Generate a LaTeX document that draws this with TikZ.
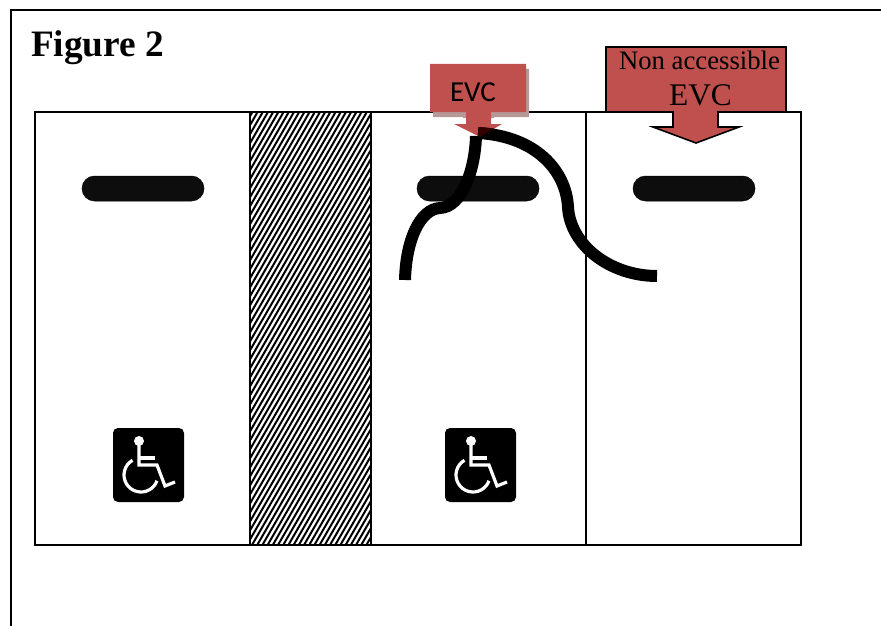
\documentclass[tikz,border=0pt]{standalone}
\usepackage{fontspec}
\setmainfont{Liberation Serif}
\newfontfamily\evcfont{Carlito}
\usepackage{tikz}
\def\wheelchair(#1){
	\begin{scope}[shift={(#1)}]
		\fill[black, rounded corners=5] (0, 0) rectangle (71, 74);
		\fill[white] (26, 13) circle (5);
		\draw[chairline] (26, 13) -- (26, 37) -- (44, 37) -- (52, 58) -- (62, 54);
		\draw[chairline] (26, 30) -- (42, 30);
		\draw[chairline] (28, 47) ++(240:17) arc (240:20:17);
	\end{scope}
}
\def\cableleft{(405, 280) .. controls (406, 240) and (420, 209) .. (440, 208) .. controls (462, 207) and (475, 170) .. (476, 136)}
\def\cableright{(657, 276) .. controls (610, 276) and (570, 245) .. (568, 207) .. controls (566, 170) and (535, 136) .. (478, 133)}
\tikzset{
	chairline/.style={white, line width=3.2},
	cable/.style={black, line width=12},
	evcred/.style={fill={rgb,255:red,192;green,80;blue,77}},
	evcshadow/.style={fill={rgb,255:red,182;green,152;blue,152}},
	stripe/.style={black, line width=2},
	parkpill/.style={fill=black!95, draw=black, line width=0.5, rounded corners=12.5}
}

\begin{document}
\begin{tikzpicture}[x=1pt, y=-1pt]
			%%%%% START %%%%%
			\useasboundingbox (0, 0) rectangle (881, 626);
			\draw[line width=2] (10.5, 626) -- (10.5, 10.5) -- (881, 10.5);
			
			\node[anchor=west, font=\fontsize{37.3}{37.3}\selectfont\bfseries] (figtitle) at (27.5, 48) {Figure 2};
			
			\begin{scope}
				\clip (250, 112) rectangle (371, 545);
				\foreach \i in {0,...,78} {
					\draw[stripe] (-8+\i*5.2, 545) -- ++(250, -433);
				}
			\end{scope}
			
			\draw[line width=1.4] (35, 112) rectangle (801, 545);
			\draw[line width=1.4] (250, 112) -- (250, 545);
			\draw[line width=1.4] (371, 112) -- (371, 545);
			\draw[line width=1.4] (586, 112) -- (586, 545);
			
			\draw[parkpill] (82, 176) rectangle (204, 201);
			\draw[parkpill] (417, 176) rectangle (539, 201);
			\draw[parkpill] (633, 176) rectangle (755, 201);
			
			\wheelchair(113, 428)
			\wheelchair(445, 428)
			
			%% shadow of the left box
			\fill[evcshadow] (433, 69) -- (529, 69) -- (529, 117) -- (494, 117) -- (494, 118) -- (463, 118) -- (463, 117) -- (433, 117) -- cycle;
			\fill[evcred] (430, 64) -- (526, 64) -- (526, 112) -- (491, 112) -- (491, 124) -- (502, 124) -- (480, 137) -- (454, 124) -- (466, 124) -- (466, 112) -- (430, 112) -- cycle;
			\node[font=\fontsize{29}{29}\evcfont] (evcleft) at (473, 92) {EVC};
			
			\draw[evcred, draw=black, line width=1.6] (606, 47) -- (786, 47) -- (786, 112) -- (718, 112) -- (718, 127) -- (739, 127) -- (696, 143) -- (653, 127) -- (673, 127) -- (673, 112) -- (606, 112) -- cycle;
			\node[font=\fontsize{26.7}{26.7}\selectfont] (evcright) at (699.5, 60) {Non accessible};
			\node[font=\fontsize{31.5}{31.5}\selectfont] (evcrightb) at (700.5, 95) {EVC};
			
			\draw[cable] \cableleft;
			\draw[cable] \cableright;
			
			%% the cables show through the tip of the arrow
			\begin{scope}
				\clip (454, 124) -- (502, 124) -- (480, 137) -- cycle;
				\draw[cable, color=black!80!red] \cableleft;
				\draw[cable, color=black!80!red] \cableright;
			\end{scope}
			
			%%%%% END %%%%%
\end{tikzpicture}
\end{document}
